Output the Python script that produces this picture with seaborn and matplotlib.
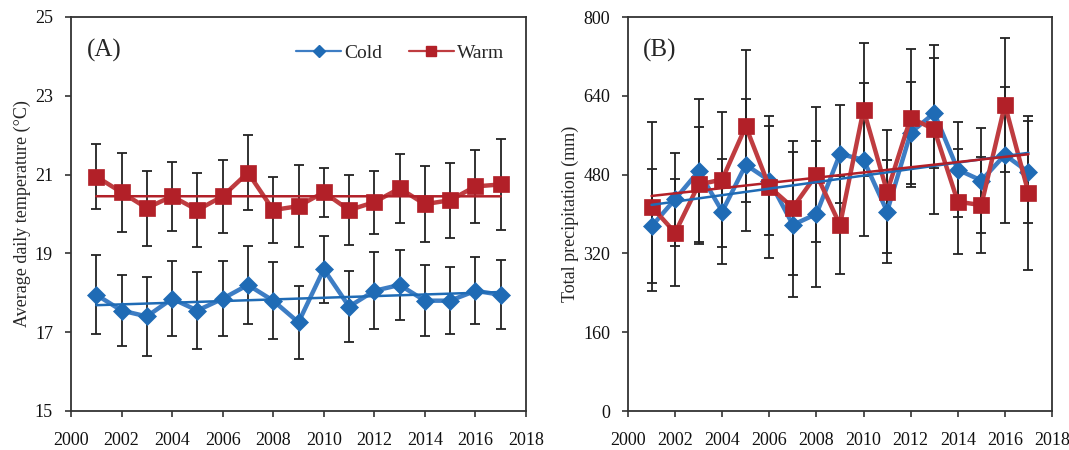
import numpy as np
import pandas as pd
import matplotlib
matplotlib.use("Agg")
import matplotlib.pyplot as plt
import seaborn as sns
from matplotlib.lines import Line2D

years = list(range(2001, 2018))

# Panel A: average daily temperature (°C)
cold_temp = [17.95, 17.55, 17.4, 17.85, 17.55, 17.85, 18.2, 17.8, 17.25, 18.6,
             17.65, 18.05, 18.2, 17.8, 17.8, 18.05, 17.95]
cold_temp_err = [1.0, 0.9, 1.0, 0.95, 0.97, 0.95, 1.0, 0.97, 0.93, 0.85,
                 0.9, 0.98, 0.88, 0.9, 0.85, 0.85, 0.88]
warm_temp = [20.95, 20.55, 20.15, 20.45, 20.1, 20.45, 21.05, 20.1, 20.2, 20.55,
             20.1, 20.3, 20.65, 20.25, 20.35, 20.7, 20.75]
warm_temp_err = [0.83, 1.0, 0.95, 0.88, 0.93, 0.92, 0.95, 0.83, 1.05, 0.63,
                 0.88, 0.8, 0.88, 0.97, 0.95, 0.92, 1.15]

# Panel B: total precipitation (mm)
cold_prec = [375, 430, 487, 405, 500, 468, 378, 400, 522, 510,
             405, 565, 605, 490, 468, 520, 485]
cold_prec_err = [116, 94, 147, 107, 134, 110, 147, 149, 100, 155,
                 104, 104, 112, 97, 107, 138, 103]
warm_prec = [415, 362, 460, 470, 578, 455, 413, 480, 378, 612,
             445, 595, 572, 425, 418, 622, 443]
warm_prec_err = [172, 109, 116, 138, 154, 145, 136, 137, 100, 135,
                 125, 140, 172, 106, 98, 136, 156]

series_names = ["Cold", "Warm"]

sns.set_theme(style="white")
plt.rcParams["font.family"] = ["Liberation Serif", "DejaVu Serif"]

blue_m, blue_l = "#1F6BB5", "#3D7DC4"
red_m, red_l = "#B22028", "#BF3C40"

fig = plt.figure(figsize=(10.69, 4.5), dpi=100)
axA = fig.add_axes([71/1069, 1-411/450, (526-71)/1069, (411-17)/450])
axB = fig.add_axes([628/1069, 1-411/450, (1052-628)/1069, (411-17)/450])


def draw(ax, cold, cold_err, warm, warm_err):
    df = pd.DataFrame({"year": years * 2,
                       "value": cold + warm,
                       "err": cold_err + warm_err,
                       "series": ["Cold"] * len(years) + ["Warm"] * len(years)})
    for name, lc, mc, mk, ms in [("Cold", blue_l, blue_m, "D", 9.5),
                                  ("Warm", red_l, red_m, "s", 11.5)]:
        sub = df[df.series == name]
        ax.errorbar(sub.year, sub.value, yerr=sub.err, fmt="none",
                    ecolor="#222222", elinewidth=1.3, capsize=3.5,
                    capthick=1.3, zorder=2)
        sns.lineplot(data=sub, x="year", y="value", ax=ax, color=lc,
                     linewidth=3.2, marker=mk, markersize=ms,
                     markerfacecolor=mc, markeredgecolor=mc,
                     markeredgewidth=0.5, zorder=3, legend=False)
        sns.regplot(data=sub, x="year", y="value", ax=ax, scatter=False,
                    ci=None, color=mc, line_kws={"linewidth": 1.8, "zorder": 4},
                    truncate=True)
    ax.set_xlim(2000, 2018)
    ax.set_xticks(range(2000, 2019, 2))
    ax.set_xlabel("")
    for s in ax.spines.values():
        s.set_color("#333333")
        s.set_linewidth(1.3)
    ax.tick_params(axis="both", which="both", direction="out", length=4,
                   width=1.2, color="#333333", labelsize=13,
                   left=True, bottom=True, labelcolor="#111111")
    ax.tick_params(axis="x", pad=11)
    ax.tick_params(axis="y", pad=9)
    ax.grid(False)


draw(axA, cold_temp, cold_temp_err, warm_temp, warm_temp_err)
axA.set_ylim(15, 25)
axA.set_yticks([15, 17, 19, 21, 23, 25])
axA.set_ylabel("Average daily temperature (°C)", fontsize=13, labelpad=3)
axA.text(0.035, 0.945, "(A)", transform=axA.transAxes, fontsize=18,
         va="top", ha="left")
handles = [Line2D([], [], color=blue_l, lw=1.6, marker="D", markersize=6.5,
                  markerfacecolor=blue_m, markeredgecolor=blue_m),
           Line2D([], [], color=red_l, lw=1.6, marker="s", markersize=7.5,
                  markerfacecolor=red_m, markeredgecolor=red_m)]
axA.legend(handles, series_names, loc="upper right", ncol=2, frameon=False,
           fontsize=14, bbox_to_anchor=(0.99, 0.975), handlelength=2.3,
           handletextpad=0.15, columnspacing=1.4)

draw(axB, cold_prec, cold_prec_err, warm_prec, warm_prec_err)
axB.set_ylim(0, 800)
axB.set_yticks([0, 160, 320, 480, 640, 800])
axB.set_ylabel("Total precipitation (mm)", fontsize=13, labelpad=3)
axB.text(0.035, 0.945, "(B)", transform=axB.transAxes, fontsize=18,
         va="top", ha="left")

fig.savefig("out.png", dpi=100)
